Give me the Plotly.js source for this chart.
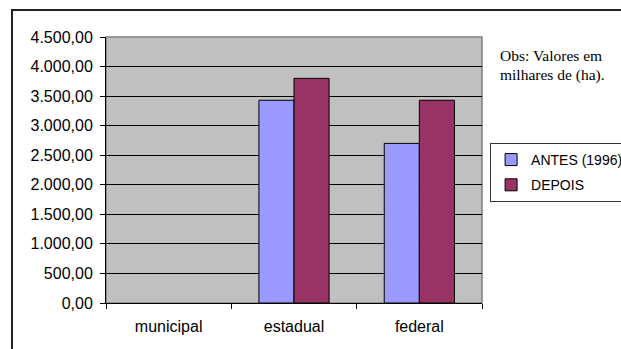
<!DOCTYPE html>
<html><head><meta charset="utf-8">
<script src="https://cdn.plot.ly/plotly-3.0.1.min.js"></script>
<style>html,body{margin:0;padding:0;background:#fff}#c{width:621px;height:349px}</style>
</head><body><div id="c"></div>
<script>
var categories = ["municipal", "estadual", "federal"];
var antes = [null, 3430, 2700];
var depois = [null, 3800, 3430];
var seriesNames = ["ANTES (1996)", "DEPOIS"];
var yTicks = [0, 500, 1000, 1500, 2000, 2500, 3000, 3500, 4000, 4500];

var traces = [
  {type: "bar", name: seriesNames[0], x: categories, y: antes, legendgroup: "a",
   marker: {color: "#9999FF", line: {color: "#000", width: 1}}},
  {type: "bar", name: seriesNames[1], x: categories, y: depois, legendgroup: "b",
   marker: {color: "#993366", line: {color: "#000", width: 1}}}
];
var layout = {
  width: 621, height: 349,
  margin: {l: 106, r: 139, t: 37, b: 46, pad: 0, autoexpand: false},
  paper_bgcolor: "#fff", plot_bgcolor: "#C0C0C0",
  separators: ",.",
  bargap: 0.44, bargroupgap: 0,
  font: {family: "Liberation Sans, Arial, sans-serif", size: 16, color: "#000"},
  showlegend: true,
  legend: {x: 1.0215, y: 0.6015, xanchor: "left", yanchor: "top",
    bordercolor: "#333", borderwidth: 1, bgcolor: "#fff",
    font: {size: 14}, tracegroupgap: 4, itemwidth: 30},
  xaxis: {type: "category", tickson: "boundaries", ticks: "outside", ticklen: 5,
    tickcolor: "#000", showline: true, linecolor: "#000", linewidth: 1,
    showgrid: false, tickfont: {size: 16}, ticklabelstandoff: 9,
    fixedrange: true, automargin: false},
  yaxis: {range: [0, 4500], tickvals: yTicks, tickformat: ",.2f",
    ticks: "outside", ticklen: 5, tickcolor: "#000",
    showline: true, linecolor: "#000", linewidth: 1,
    showgrid: true, gridcolor: "#000", gridwidth: 1, zeroline: false,
    tickfont: {size: 16}, ticklabelstandoff: 4, fixedrange: true, automargin: false},
  shapes: [
    {type: "rect", xref: "paper", yref: "paper", x0: 0, x1: 1, y0: 0, y1: 1,
     line: {color: "#808080", width: 1.5}, fillcolor: "rgba(0,0,0,0)", layer: "below"},
    {type: "rect", xref: "paper", yref: "paper", x0: -0.25, x1: 1.5, y0: -0.3, y1: 1.1015,
     line: {color: "#222", width: 2}, fillcolor: "rgba(0,0,0,0)"}
  ],
  annotations: [
    {xref: "paper", yref: "paper", x: 1.0452, y: (303 - 56) / 266, xanchor: "left", yanchor: "middle",
     align: "left", showarrow: false, text: "Obs: Valores em", borderpad: 0,
     font: {family: "Liberation Serif, Times New Roman, serif", size: 15.5, color: "#000"}},
    {xref: "paper", yref: "paper", x: 1.0452, y: (303 - 75) / 266, xanchor: "left", yanchor: "middle",
     align: "left", showarrow: false, text: "milhares de (ha).", borderpad: 0,
     font: {family: "Liberation Serif, Times New Roman, serif", size: 15.5, color: "#000"}}
  ]
};
Plotly.newPlot("c", traces, layout, {displayModeBar: false, staticPlot: true});
</script></body></html>
